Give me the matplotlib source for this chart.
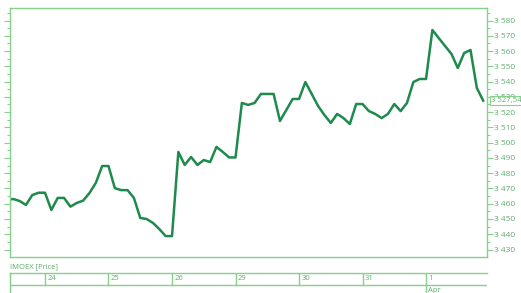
import numpy as np
import matplotlib.pyplot as plt
from matplotlib.ticker import MultipleLocator, FuncFormatter

# hourly closes, 10 bars per trading day (first bars belong to the 23rd)
prices = [3462.4, 3463.1, 3461.8, 3459.2, 3465.7, 3467.2,
          3467.2, 3455.9, 3463.8, 3463.8, 3458.1, 3460.5, 3462.0, 3467.0, 3473.6, 3484.7,
          3484.7, 3470.2, 3468.9, 3468.9, 3463.8, 3450.7, 3450.0, 3447.4, 3443.4, 3438.8,
          3438.8, 3493.9, 3485.4, 3490.6, 3485.4, 3488.6, 3487.3, 3497.2, 3493.9, 3490.3,
          3490.3, 3526.0, 3524.7, 3526.0, 3531.9, 3531.9, 3531.9, 3514.2, 3521.4, 3528.6,
          3528.6, 3539.7, 3531.9, 3524.0, 3518.1, 3512.9, 3518.8, 3516.1, 3512.2, 3525.3,
          3525.3, 3520.7, 3518.8, 3516.1, 3518.8, 3525.3, 3520.7, 3526.0, 3539.7, 3541.7,
          3541.7, 3573.8, 3568.5, 3563.3, 3558.1, 3548.9, 3558.7, 3560.7, 3535.8, 3527.54]
day_labels = ['24', '25', '26', '29', '30', '31', '1']
day_starts = [6, 16, 26, 36, 46, 56, 66]
month_label = 'Apr'
month_start = 66
series_name = 'IMOEX [Price]'

line_col = '#1e8a4c'
frame_col = '#86cf8c'
text_col = '#5fae6e'

plt.rcParams['font.family'] = ['Open Sans', 'DejaVu Sans']

fig = plt.figure(figsize=(5.21, 2.93), dpi=100)
W, H = 521, 293

def box(x0, y0, x1, y1):
    return [x0 / W, 1 - y1 / H, (x1 - x0) / W, (y1 - y0) / H]

ax = fig.add_axes(box(10, 8, 487, 257))
x = np.arange(len(prices))
ax.plot(x, prices, color=line_col, lw=1.8, solid_joinstyle='round')
ax.set_xlim(0.49, 75.6)
ax.set_ylim(3425.1, 3588.2)

for s in ax.spines.values():
    s.set_color(frame_col)
    s.set_linewidth(1.0)
ax.set_xticks([])
ax.yaxis.set_major_locator(MultipleLocator(10))
ax.yaxis.set_minor_locator(MultipleLocator(5))
ax.yaxis.set_major_formatter(FuncFormatter(lambda v, p: f'{v:,.0f}'.replace(',', ' ')))
ax.tick_params(axis='y', which='both', left=True, right=True, labelleft=False,
               labelright=True, direction='out', color=frame_col, labelcolor=text_col,
               labelsize=6, pad=1)
ax.tick_params(axis='y', which='major', length=4, width=0.8)
ax.tick_params(axis='y', which='minor', length=2.5, width=0.8)

# last value marker on the price scale
last = prices[-1]
ax.annotate(f'{last:,.2f}'.replace(',', ' ').replace('.', ','),
            xy=(1.0, last), xycoords=('axes fraction', 'data'),
            xytext=(3, 0), textcoords='offset points', va='center', ha='left',
            fontsize=5.6, color=text_col, annotation_clip=False,
            bbox=dict(boxstyle='square,pad=0.12', fc='white', ec=frame_col, lw=0.8))

fig.text(10 / W, 1 - 267 / H, series_name, fontsize=5.5, color=text_col, va='center', ha='left')

# date strip under the chart
dx = fig.add_axes(box(10, 273, 487, 293))
dx.set_xlim(ax.get_xlim())
dx.set_ylim(0, 1)
dx.set_xticks([])
dx.set_yticks([])
for k in ['right', 'bottom']:
    dx.spines[k].set_visible(False)
for k in ['top', 'left']:
    dx.spines[k].set_color(frame_col)
    dx.spines[k].set_linewidth(1.0)
mid = 1 - 11.5 / 20
dx.axhline(mid, color=frame_col, lw=1.0)
for d, lab in zip(day_starts, day_labels):
    lo = 0 if d == month_start else mid
    dx.plot([d, d], [lo, 1], color=frame_col, lw=1.0)
    dx.text(d + 0.35, (1 + mid) / 2, lab, fontsize=5.5, color=text_col, va='center', ha='left')
dx.text(month_start + 0.35, 0.12, month_label, fontsize=5.5, color=text_col, va='center', ha='left')

fig.savefig('out.png', dpi=100)
